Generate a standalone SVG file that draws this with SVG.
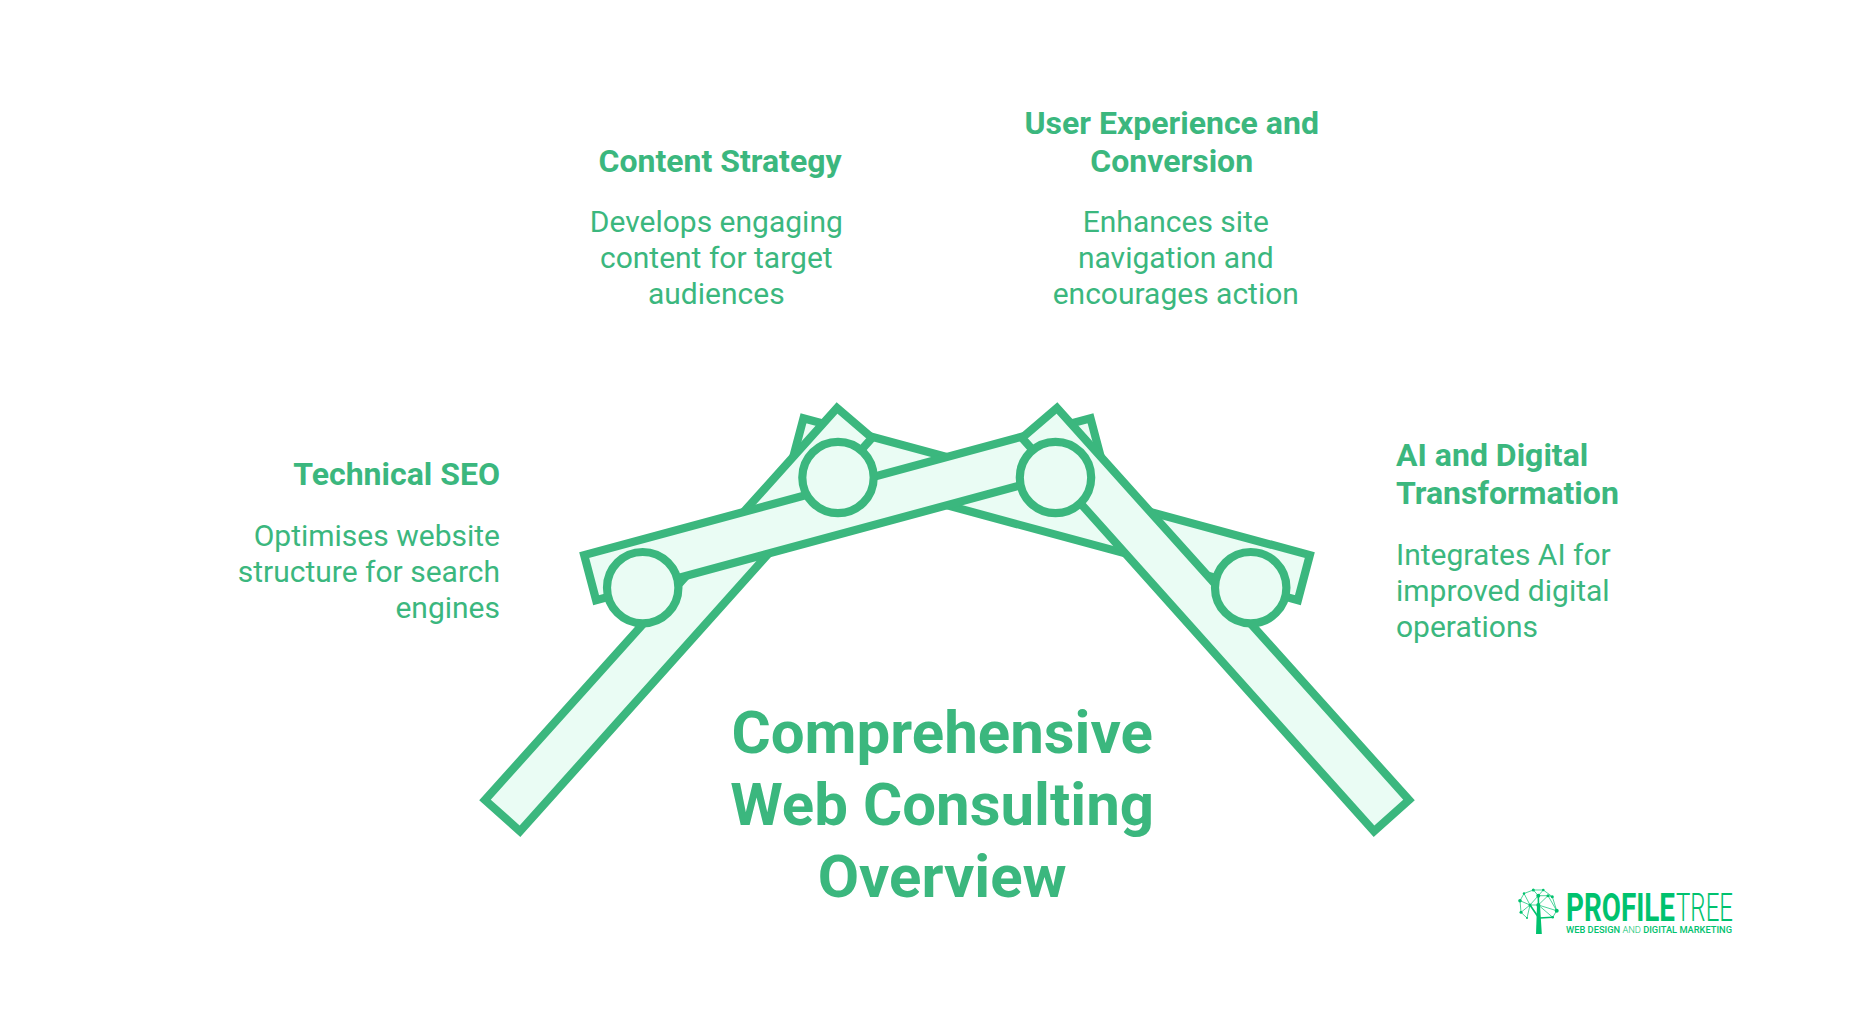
<svg xmlns="http://www.w3.org/2000/svg" width="1872" height="1036" viewBox="0 0 1872 1036">
<style>
text{font-family:Roboto,"Liberation Sans",sans-serif;fill:#3BB77E}
.h{font-size:32px;font-weight:700}
.d{font-size:30px;font-weight:400}
.t{font-size:60px;font-weight:700;text-anchor:middle}
.m{text-anchor:middle}
.e{text-anchor:end}
.bar{fill:#EAFCF4;stroke:#3BB77E;stroke-width:8.2;stroke-linejoin:miter}
.logo text{fill:#00C26E}
.lk{stroke:#00C26E;stroke-width:.7;fill:none}
.br{stroke:#00C26E;stroke-width:1.6;fill:none}
.nd{fill:#00C26E}
</style>
<rect width="1872" height="1036" fill="#fff"/>
<g id="arms">
<polygon id="right-crossbar" class="bar" points="1309.8,555.1 1297.9,600.1 791.6,463.2 803.5,418.2"/>
<polygon id="left-arm" class="bar" points="485,800 520,831.300 872,438 837,408"/>
<polygon id="left-crossbar" class="bar" points="584.2,555.1 596.1,600.1 1102.4,463.2 1090.5,418.2"/>
<polygon id="right-arm" class="bar" points="1409,800 1374,831.300 1022,438 1057,408"/>
</g>
<g id="node-technical-seo">
<circle class="bar" cx="642.7" cy="587.7" r="35.7"/>
<text class="h e" x="500" y="485">Technical SEO</text>
<text class="d e" x="500" y="545.500">Optimises website</text>
<text class="d e" x="500" y="581.500">structure for search</text>
<text class="d e" x="500" y="617.500">engines</text>
</g>
<g id="node-content-strategy">
<circle class="bar" cx="838" cy="477.5" r="35.7"/>
<text class="h m" x="720" y="171.500">Content Strategy</text>
<text class="d m" x="716.3" y="232.200">Develops engaging</text>
<text class="d m" x="716.3" y="268.200">content for target</text>
<text class="d m" x="716.3" y="304.200">audiences</text>
</g>
<g id="node-user-experience">
<circle class="bar" cx="1055.5" cy="477.5" r="35.7"/>
<text class="h m" x="1171.7" y="133.500">User Experience and</text>
<text class="h m" x="1171.7" y="171.500">Conversion</text>
<text class="d m" x="1175.8" y="232.200">Enhances site</text>
<text class="d m" x="1175.8" y="268.200">navigation and</text>
<text class="d m" x="1175.8" y="304.200">encourages action</text>
</g>
<g id="node-ai">
<circle class="bar" cx="1250.7" cy="587.7" r="35.7"/>
<text class="h" x="1396" y="466">AI and Digital</text>
<text class="h" x="1396" y="504">Transformation</text>
<text class="d" x="1396" y="564.500">Integrates AI for</text>
<text class="d" x="1396" y="600.500">improved digital</text>
<text class="d" x="1396" y="636.500">operations</text>
</g>
<g id="title">
<text class="t" x="942.2" y="752.700">Comprehensive</text>
<text class="t" x="942.2" y="824.700">Web Consulting</text>
<text class="t" x="942.2" y="896.700">Overview</text>
</g>
<g id="logo" class="logo">
<path d="M1536 934 L1537 905 L1540 905 L1541.800 934 Z" fill="#00C26E"/>
<path class="br" d="M1537.500 916 L1530 905 M1539.500 918 L1552.700 917.300 M1538.500 905 L1538.300 896"/>
<path class="lk" d="M1520 900.700 L1524 893.500 L1533.300 890 L1543.300 890 L1552.300 896.700 L1556.700 910.700 L1552.700 917.300 M1520 900.700 L1521 912.300 L1530 905 L1520 900.700 M1524 893.500 L1530 905 L1538.300 895.700 L1533.300 890 M1538.300 895.700 L1543.300 890 M1538.300 895.700 L1548 895.700 L1552.300 896.700 M1548 895.700 L1538.300 905 L1530 905 M1538.300 905 L1556.700 910.700 L1548 895.700 M1538.300 905 L1552.700 917.300 M1521 912.300 L1527 918 L1530 905"/>
<g class="nd">
<circle cx="1520" cy="900.700" r="1.800"/><circle cx="1524" cy="893.500" r="1.200"/><circle cx="1533.300" cy="890" r="1.500"/><circle cx="1543.300" cy="890" r="1.300"/><circle cx="1552.300" cy="896.700" r="1.500"/><circle cx="1556.700" cy="910.700" r="2"/><circle cx="1552.700" cy="917.300" r="1.300"/><circle cx="1521" cy="912.300" r="1.500"/><circle cx="1527" cy="918" r="1"/><circle cx="1538.300" cy="905" r="2"/><circle cx="1538.300" cy="895.700" r="2"/><circle cx="1548" cy="895.700" r="1.500"/><circle cx="1530" cy="905" r="1.500"/>
</g>
<text x="1566" y="920.700" font-size="38" font-weight="700" textLength="109" lengthAdjust="spacingAndGlyphs">PROFILE</text>
<text x="1676" y="920.700" font-size="38" font-weight="300" textLength="57" lengthAdjust="spacingAndGlyphs">TREE</text>
<text x="1566" y="932.700" font-size="9.500" font-weight="500" textLength="166" lengthAdjust="spacingAndGlyphs">WEB DESIGN <tspan font-weight="300">AND</tspan> DIGITAL MARKETING</text>
</g>
</svg>
